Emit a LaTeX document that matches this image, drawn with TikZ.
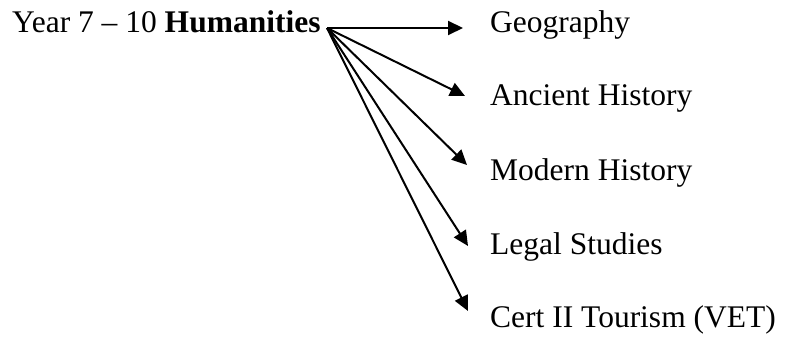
\documentclass[tikz,border=0pt]{standalone}
\usepackage{fontspec}
\setmainfont{Liberation Serif}
\usetikzlibrary{arrows.meta}
\tikzset{
  lbl/.style={anchor=base west, inner sep=0pt, font=\fontsize{31.5}{36}\selectfont},
  arr/.style={line width=2pt, -{Triangle[length=15pt,width=14pt]}}
}
\begin{document}
\begin{tikzpicture}[x=1pt,y=-1pt]
\useasboundingbox (0,0) rectangle (787,342);
\node[lbl] (src) at (12,33) {Year 7 -- 10 \textbf{Humanities}};
\coordinate (o) at (327,28);
\coordinate (t1) at (463,28);
\coordinate (t2) at (465,96);
\coordinate (t3) at (467,165);
\coordinate (t4) at (468,246);
\coordinate (t5) at (468,311);
\node[lbl] (geo) at (490,33) {Geography};
\node[lbl] (anc) at (490,106) {Ancient History};
\node[lbl] (mod) at (490,180) {Modern History};
\node[lbl] (leg) at (490,254) {Legal Studies};
\node[lbl] (cert) at (490,327) {Cert II Tourism (VET)};
\draw[arr] (o) -- (t1);
\draw[arr] (o) -- (t2);
\draw[arr] (o) -- (t3);
\draw[arr] (o) -- (t4);
\draw[arr] (o) -- (t5);
\end{tikzpicture}
\end{document}
